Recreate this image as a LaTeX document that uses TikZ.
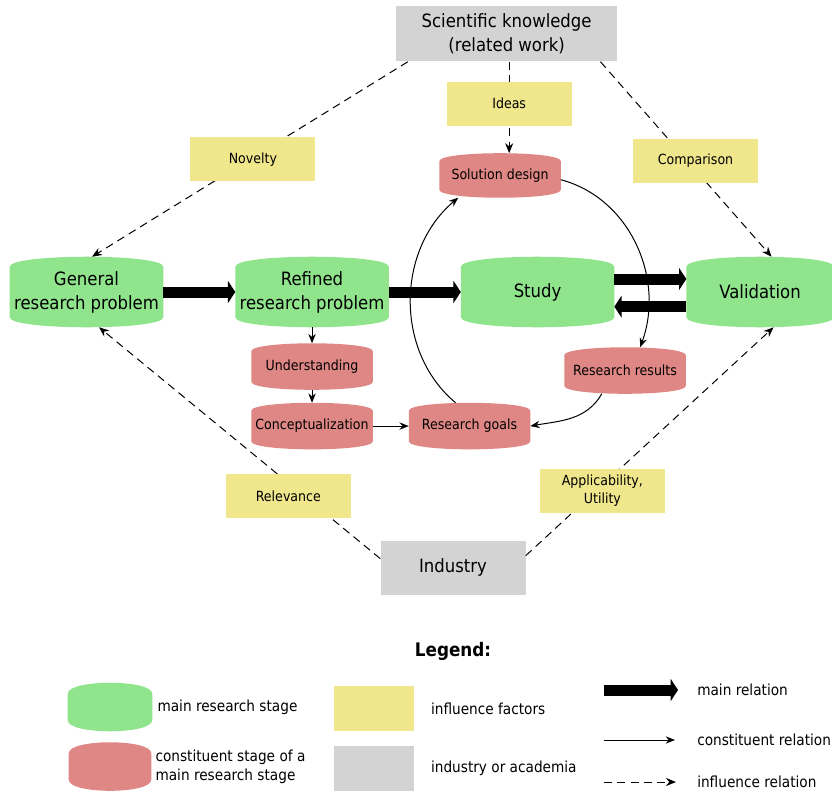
\documentclass[tikz,border=0pt]{standalone}
\usepackage{fontspec}
\setmainfont{DejaVu Sans Condensed}
\usepackage{tikz}
\usetikzlibrary{arrows.meta,positioning,calc,backgrounds}

\definecolor{stagegreen}{RGB}{143,228,140}
\definecolor{stagered}{RGB}{222,135,132}
\definecolor{factoryellow}{RGB}{240,230,140}
\definecolor{sourcegray}{RGB}{211,211,211}

% bulged box behind a node: name, colour, bulge
\newcommand{\stageshape}[3]{%
  \fill[#2] ([yshift=-#3]#1.north west) .. controls ([yshift=#3/3]#1.north west) and ([yshift=#3/3]#1.north east) .. ([yshift=-#3]#1.north east)
    -- ([yshift=#3]#1.south east) .. controls ([yshift=-#3/3]#1.south east) and ([yshift=-#3/3]#1.south west) .. ([yshift=#3]#1.south west) -- cycle;}

\begin{document}
\begin{tikzpicture}[
    node distance=1cm,
    stage/.style={minimum width=114.75pt, minimum height=52.5pt, inner sep=0pt, align=center, font=\fontsize{13.75pt}{18pt}\selectfont},
    substage/.style={minimum width=90.75pt, minimum height=34.5pt, inner sep=0pt, align=center, font=\fontsize{10.5pt}{13pt}\selectfont},
    factor/.style={rectangle, fill=factoryellow, minimum width=93.75pt, minimum height=33pt, inner sep=0pt, align=center, font=\fontsize{10.5pt}{13.5pt}\selectfont},
    source/.style={rectangle, fill=sourcegray, inner sep=0pt, align=center, font=\fontsize{13.75pt}{18pt}\selectfont},
    legtext/.style={inner sep=0pt, anchor=west, align=left, font=\fontsize{11.4pt}{14.25pt}\selectfont},
    mainrel/.style={line width=8.25pt, -{Triangle[length=5.5pt,width=16.5pt]}},
    constit/.style={line width=0.75pt, -{Stealth[length=7pt,width=5.5pt]}},
    infl/.style={line width=0.75pt, dash pattern=on 6pt off 4pt, -{Stealth[length=7.5pt,width=6pt]}}
]
    \useasboundingbox (0,0) rectangle (624pt,-594.75pt);

    % Main research stages
    \node[stage] (general) at (64.875pt,-219pt) {General\\research problem};
    \node[stage, right=54pt of general] (refined) {Refined\\research problem};
    \node[stage, right=54pt of refined] (study) {Study};
    \node[stage, right=54pt of study, minimum width=110.25pt] (valid) {Validation};

    % Constituent stages
    \node[substage, below=12pt of refined] (underst) {Understanding};
    \node[substage, below=9.75pt of underst] (concept) {Conceptualization};
    \node[substage, right=27pt of concept] (goals) {Research goals};
    \node[substage, above=44.25pt of study, xshift=-28.1pt, minimum height=33pt] (soldesign) {Solution design};
    \node[substage, below=15pt of study, xshift=65.6pt] (results) {Research results};

    % Knowledge sources
    \node[source, minimum width=165.75pt, minimum height=41.25pt, above=146.25pt of study, xshift=-23.2pt] (science) {Scientific knowledge\\(related work)};
    \node[source, minimum width=108.75pt, minimum height=40.5pt, below=68.25pt of goals, xshift=-12.4pt] (industry) {Industry};

    % Main relations
    \draw[mainrel] (general) -- (refined);
    \draw[mainrel] (refined) -- (study);
    \draw[mainrel] ([yshift=9.75pt]study.east) -- ([yshift=9.75pt]valid.west);
    \draw[mainrel] ([yshift=-11pt]valid.west) -- ([yshift=-11pt]study.east);

    % Constituent relations
    \draw[constit] (refined) -- (underst);
    \draw[constit] (underst) -- (concept);
    \draw[constit] (concept) -- (goals);
    \draw[constit] (goals.121) to[out=140, in=220] (soldesign.208);
    \draw[constit] (soldesign.356) to[out=-15, in=70] (results.57);
    \draw[constit] (results.225) to[out=240, in=10] (goals.east);

    % Influence relations
    \draw[infl] ([xshift=9pt]science.south west) -- ([xshift=4.1pt]general.north)
        node[factor, pos=0.5, xshift=2.25pt] (novelty) {Novelty};
    \draw[infl] ([xshift=1.9pt]science.south) -- ([xshift=1.9pt]science.south |- soldesign.north)
        node[factor, pos=0.457] (ideas) {Ideas};
    \draw[infl] ([xshift=-12.7pt]science.south east) -- ([xshift=8.6pt]valid.north)
        node[factor, pos=0.508, xshift=6.1pt] (comparison) {Comparison};
    \draw[infl] ([yshift=6.75pt]industry.west) -- ([xshift=9.4pt]general.south)
        node[factor, pos=0.27, xshift=-12pt] (relevance) {Relevance};
    \draw[infl] ([yshift=9pt]industry.east) -- ([xshift=10.1pt]valid.south)
        node[factor, pos=0.284, xshift=4.65pt] (utility) {Applicability,\\Utility};

    % Legend
    \node[font=\bfseries\fontsize{14pt}{16pt}\selectfont, inner sep=0pt, below=35.25pt of industry] (legtitle) {Legend:};
    \node[stage, minimum width=63pt, minimum height=36pt] (lgreen) at (82.5pt,-530.25pt) {};
    \node[stage, minimum width=61.5pt, minimum height=36pt, below=8.25pt of lgreen] (lred) {};
    \node[legtext, right=3.75pt of lgreen] (lgreentxt) {main research stage};
    \node[legtext, right=3pt of lred] (lredtxt) {constituent stage of a\\main research stage};
    \node[factor, minimum width=60pt, minimum height=33.75pt, right=135.75pt of lgreen, yshift=-1.1pt] (lyellow) {};
    \node[source, minimum width=60pt, minimum height=33.75pt, below=10.5pt of lyellow] (lgray) {};
    \node[legtext, right=12.75pt of lyellow] (lyellowtxt) {influence factors};
    \node[legtext, right=12.75pt of lgray] (lgraytxt) {industry or academia};

    \coordinate (mainA) at (453pt,-517.5pt);
    \coordinate[right=55.5pt of mainA] (mainB);
    \node[legtext, right=14.25pt of mainB] (maintxt) {main relation};
    \coordinate[below=37.5pt of mainA] (constA);
    \coordinate[right=53.25pt of constA] (constB);
    \node[legtext, right=16.5pt of constB] (consttxt) {constituent relation};
    \coordinate[below=31.5pt of constA] (inflA);
    \coordinate[right=54pt of inflA] (inflB);
    \node[legtext, right=15.75pt of inflB] (infltxt) {influence relation};

    \draw[mainrel] (mainA) -- (mainB);
    \draw[constit] (constA) -- (constB);
    \draw[infl] (inflA) -- (inflB);

    % Stage shapes
    \begin{scope}[on background layer]
        \foreach \n/\col/\bl in {general/stagegreen/7.5pt, refined/stagegreen/7.5pt, study/stagegreen/7.5pt, valid/stagegreen/7.5pt,
            underst/stagered/6pt, concept/stagered/6pt, goals/stagered/6pt, soldesign/stagered/6pt, results/stagered/6pt,
            lgreen/stagegreen/8.25pt, lred/stagered/8.25pt}
            {\stageshape{\n}{\col}{\bl}}
    \end{scope}

\end{tikzpicture}
\end{document}
